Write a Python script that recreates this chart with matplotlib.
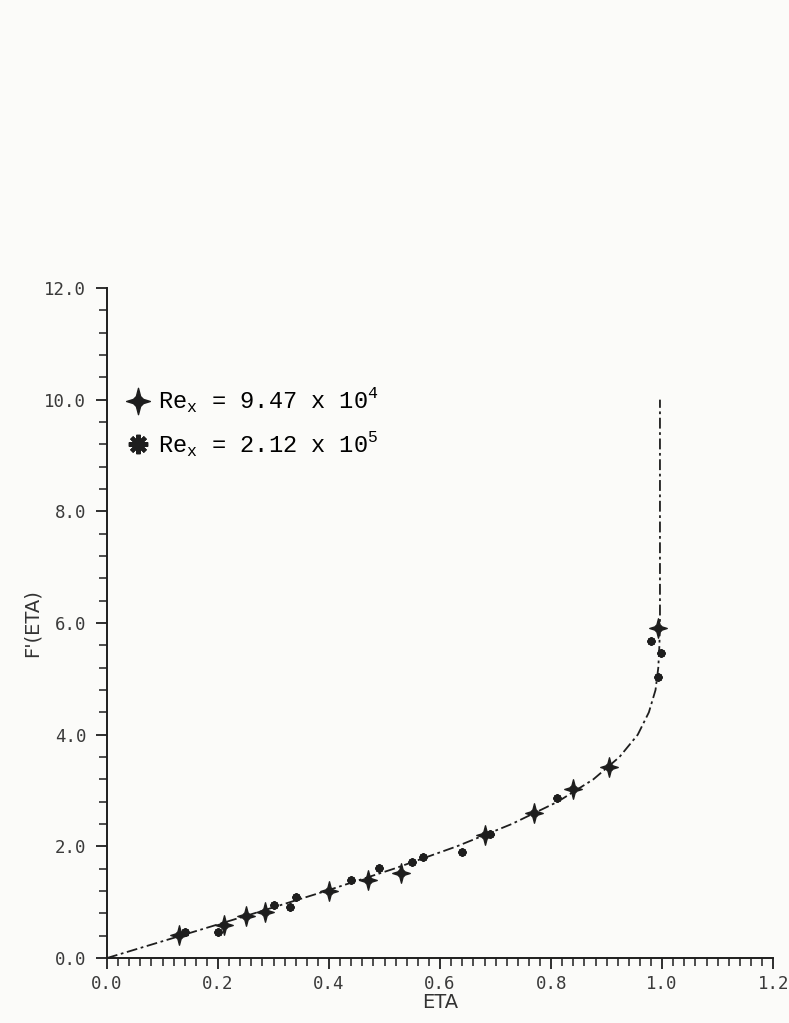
import matplotlib
matplotlib.use('Agg')
import matplotlib.pyplot as plt
from matplotlib.path import Path
from matplotlib.lines import Line2D
from matplotlib.ticker import MultipleLocator

# -------- data -------- #

# velocity profile curve (x = F', y = ETA)
curve_fp = [0.0, 0.133, 0.265, 0.394, 0.517, 0.630, 0.729, 0.812, 0.876,
            0.923, 0.956, 0.976, 0.988, 0.993, 0.995, 0.996, 0.996]
curve_eta = [0.0, 0.4, 0.8, 1.2, 1.6, 2.0, 2.4, 2.8, 3.2,
             3.6, 4.0, 4.4, 4.8, 5.2, 5.6, 6.0, 10.0]

# Re_x = 9.47 x 10^4 (big four-point markers)
s1_fp = [0.13, 0.21, 0.25, 0.285, 0.40, 0.47, 0.53, 0.68, 0.77, 0.84, 0.905, 0.993]
s1_eta = [0.41, 0.59, 0.75, 0.82, 1.20, 1.40, 1.52, 2.20, 2.60, 3.03, 3.42, 5.91]

# Re_x = 2.12 x 10^5 (small star markers)
s2_fp = [0.14, 0.20, 0.30, 0.33, 0.34, 0.44, 0.49, 0.55, 0.57, 0.64, 0.69,
         0.81, 0.98, 0.998, 0.993]
s2_eta = [0.47, 0.47, 0.95, 0.91, 1.09, 1.40, 1.61, 1.72, 1.81, 1.90, 2.23,
          2.87, 5.67, 5.46, 5.04]

labels = [r'Re$_{\mathtt{x}}$ = 9.47 x 10$^{\mathtt{4}}$',
          r'Re$_{\mathtt{x}}$ = 2.12 x 10$^{\mathtt{5}}$']

# -------- styling -------- #

plt.rcParams['mathtext.fontset'] = 'custom'
plt.rcParams['mathtext.tt'] = 'Liberation Mono'
plt.rcParams['mathtext.rm'] = 'Liberation Mono'

ink = '#1e1e1e'
paper = '#fbfbf9'

# four point star with a fat body, like the plotter symbol
a, b = 0.38, 0.16
star4 = Path([(0, 1), (b, a), (a, b), (0.9, 0), (a, -b), (b, -a), (0, -1),
              (-b, -a), (-a, -b), (-0.9, 0), (-a, b), (-b, a), (0, 1)],
             [Path.MOVETO] + [Path.LINETO] * 11 + [Path.CLOSEPOLY])

fig = plt.figure(figsize=(7.89, 10.23), dpi=100, facecolor=paper)
ax = fig.add_axes([0.1356, 0.0635, 0.8444, 0.655])
ax.set_facecolor(paper)

ax.plot(curve_fp, curve_eta, color=ink, lw=1.3, ls=(0, (6, 2, 1.5, 2)))
ax.plot(s1_fp, s1_eta, ls='none', marker=star4, ms=14, color=ink, mec=ink)
ax.plot(s2_fp, s2_eta, ls='none', marker=(8, 2, 0), ms=6, mew=1.6, color=ink)

ax.set_xlim(0, 1.2)
ax.set_ylim(0, 12.0)
ax.xaxis.set_major_locator(MultipleLocator(0.2))
ax.xaxis.set_minor_locator(MultipleLocator(0.02))
ax.yaxis.set_major_locator(MultipleLocator(2.0))
ax.yaxis.set_minor_locator(MultipleLocator(0.4))

for side in ['top', 'right']:
    ax.spines[side].set_visible(False)
for side in ['left', 'bottom']:
    ax.spines[side].set_color(ink)
    ax.spines[side].set_linewidth(1.4)

ax.tick_params(which='major', length=8, width=1.3, color=ink)
ax.tick_params(which='minor', length=6, width=1.1, color=ink)
ax.tick_params(axis='x', pad=4)
ax.tick_params(axis='y', pad=7)
ax.tick_params(labelsize=12.5, labelcolor='#3a3a3a')
ax.set_xticklabels([f'{v:.1f}' for v in ax.get_xticks()], family='DejaVu Sans Mono')
ax.set_yticklabels([f'{v:.1f}' for v in ax.get_yticks()], family='DejaVu Sans Mono')

ax.set_xlabel('ETA', fontsize=14, color='#333333', labelpad=0)
ax.set_ylabel("F'(ETA)", fontsize=14, color='#333333', labelpad=2)

handles = [Line2D([], [], ls='none', marker=star4, ms=19, color=ink),
           Line2D([], [], ls='none', marker=(8, 2, 0), ms=14, mew=3, color=ink)]
ax.legend(handles, labels, loc='upper left', bbox_to_anchor=(0.0, 0.885),
          frameon=False, handlelength=0.8, handletextpad=0.45, labelspacing=0.6,
          prop={'family': 'Liberation Mono', 'size': 17})

fig.savefig('out.png', dpi=100, facecolor=paper)
